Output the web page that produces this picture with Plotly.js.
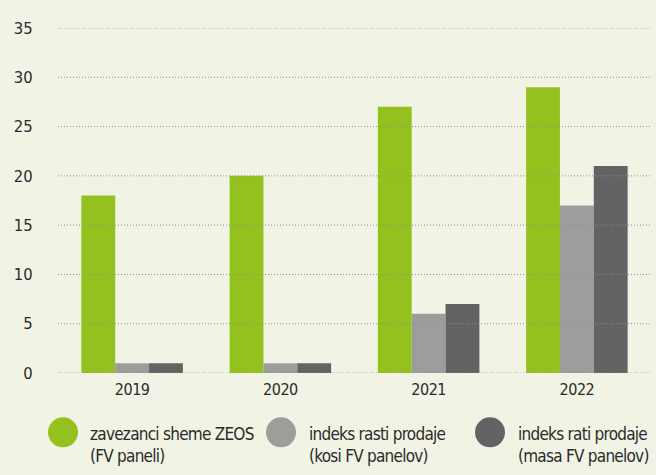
<!DOCTYPE html>
<html>
<head>
<meta charset="utf-8">
<script src="https://cdn.plot.ly/plotly-3.0.1.min.js"></script>
<style>
html,body{margin:0;padding:0;background:#f1f4e5;}
#chart{width:656px;height:475px;}
.annotation-text{letter-spacing:-0.75px;}
.xtick text{letter-spacing:-0.5px;}
</style>
</head>
<body>
<div id="chart"></div>
<script>
var years = ["2019", "2020", "2021", "2022"];
var zeos = [18, 20, 27, 29];
var kosi = [1, 1, 6, 17];
var masa = [1, 1, 7, 21];
var seriesNames = [
  ["zavezanci sheme ZEOS", "(FV paneli)"],
  ["indeks rasti prodaje", "(kosi FV panelov)"],
  ["indeks rati prodaje", "(masa FV panelov)"]
];
var colors = ["#95c11f", "#9d9d9c", "#636363"];
var yTicks = [0, 5, 10, 15, 20, 25, 30, 35];

var FONT = "'DejaVu Sans Condensed', 'DejaVu Sans', sans-serif";
var values = [zeos, kosi, masa];
var traces = values.map(function (v, i) {
  return {
    type: "bar", x: years, y: v, name: seriesNames[i].join(" "),
    marker: {color: colors[i]}, showlegend: false, hoverinfo: "none"
  };
});

var shapes = yTicks.map(function (t) {
  return {type: "line", xref: "paper", yref: "y", x0: 0, x1: 1, y0: t, y1: t,
    line: {color: "#8f8f8a", width: 1, dash: "1px,2px"}, layer: "above"};
});

var W = 593, H = 344.7, L = 58, T = 28;
function px(x) { return (x - L) / W; }
function py(y) { return (T + H - y) / H; }
var legX = [63, 281, 490];
var txtX = [88, 307, 516];
var annotations = [];
legX.forEach(function (cx, i) {
  shapes.push({type: "circle", xref: "paper", yref: "paper", xsizemode: "pixel", ysizemode: "pixel",
    xanchor: px(cx), yanchor: py(432), x0: -15, x1: 15, y0: -15, y1: 15,
    fillcolor: colors[i], line: {width: 0}});
  annotations.push({xref: "paper", yref: "paper", x: px(txtX[i]), y: py(445), xanchor: "left", yanchor: "middle",
    text: seriesNames[i].join("<br>"), showarrow: false, align: "left",
    font: {family: FONT, size: 17, color: "#2b2b2b"}});
});

var layout = {
  width: 656, height: 475,
  margin: {l: L, r: 656 - L - W, t: T, b: 475 - T - H},
  paper_bgcolor: "#f1f4e5", plot_bgcolor: "#f1f4e5",
  barmode: "group", bargap: 0.315, bargroupgap: 0,
  showlegend: false,
  font: {family: FONT, size: 16, color: "#2b2b2b"},
  xaxis: {type: "category", showgrid: false, zeroline: false, showline: false, ticks: "",
    ticklabelstandoff: 5,
    tickfont: {family: FONT, size: 16, color: "#2b2b2b"}},
  yaxis: {range: [0, 35], showgrid: false, zeroline: false, showline: false,
    tickvals: yTicks, ticktext: yTicks.map(function (t) { return t < 10 ? "\u2007" + t : String(t); }),
    ticks: "outside", ticklen: 21, tickcolor: "rgba(0,0,0,0)",
    tickfont: {family: FONT, size: 16.5, color: "#2b2b2b"}},
  shapes: shapes,
  annotations: annotations
};

Plotly.newPlot("chart", traces, layout, {staticPlot: true, displayModeBar: false});
</script>
</body>
</html>
